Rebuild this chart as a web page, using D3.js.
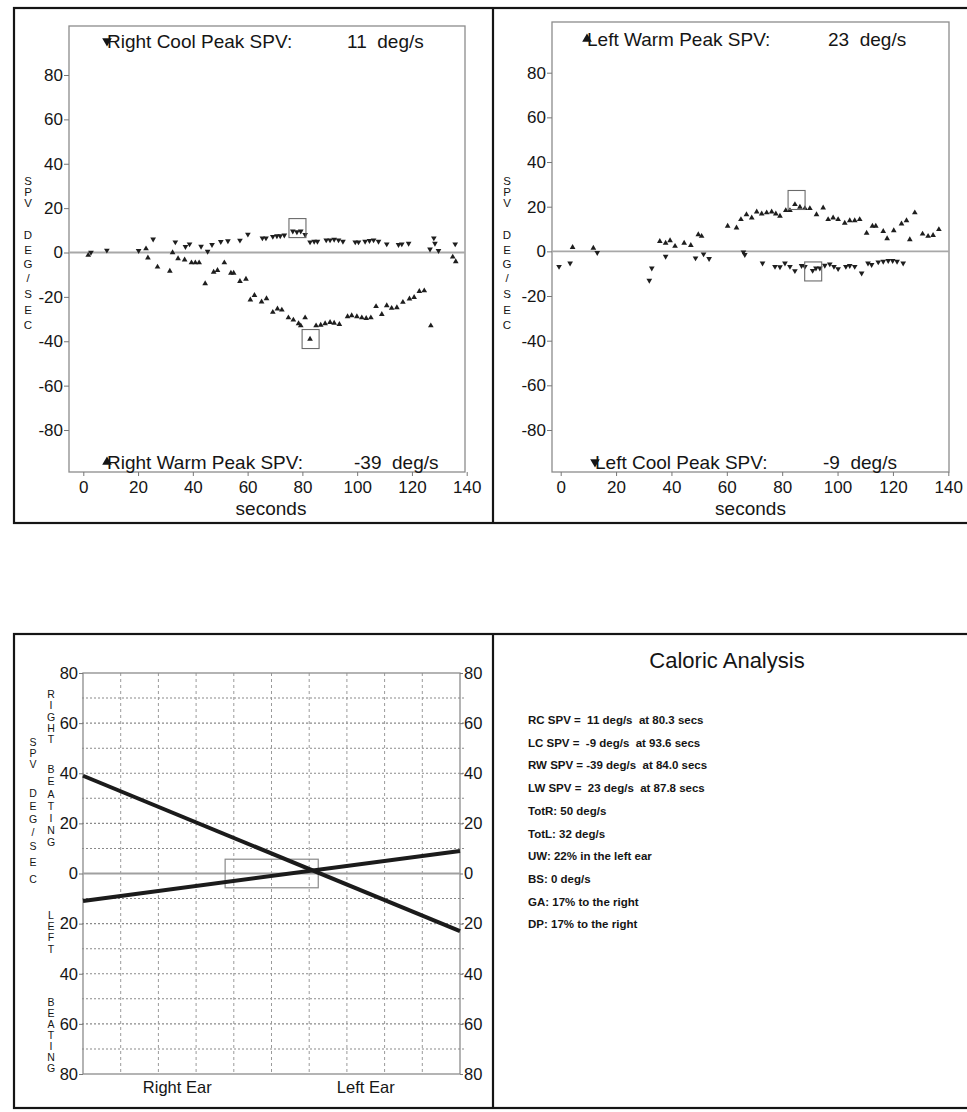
<!DOCTYPE html>
<html><head><meta charset="utf-8">
<script src="https://cdn.jsdelivr.net/npm/d3@7"></script>
<style>
body{margin:0;background:#fff}
svg text{font-family:"Liberation Sans",Arial,Helvetica,sans-serif;white-space:pre}
</style>
</head><body>
<svg id="c" width="967" height="1112"></svg>
<script>
// ---------- DATA ----------
const xTicks = [0, 20, 40, 60, 80, 100, 120, 140];
const yTicks = [80, 60, 40, 20, 0, -20, -40, -60, -80];

// Right ear: cool (down triangles) and warm (up triangles), [seconds, deg/s]
const rightCool = [[2.8,0],[8.6,1],[20.2,0.8],[25.5,6],[33.6,4.7],[37.3,2.6],[38.8,3.8],[43,2.7],[45.4,0.5],[47,3.5],[50.2,4.9],[52.8,5.2],[57.2,5.5],[60.1,8.2],[65.4,6.5],[66.7,6.5],[69.2,7.2],[70.7,7.5],[71.9,7.5],[73.4,7.8],[76.5,9.6],[78,9.3],[79.4,9.6],[81,8],[82.8,4.7],[84.3,5],[85.5,5],[88.7,5.6],[90.1,5.6],[91.6,5.9],[93.2,5.6],[94.8,5],[99.3,4.7],[100.5,4.7],[102.9,5],[104.5,5.3],[106,5.6],[107.8,5],[110.8,3.8],[115.1,3.5],[116.3,3.8],[118.8,4.1],[126.6,1.5],[128,6.5],[128.4,4.1],[129.7,0.8],[135.8,3.8]];
const rightWarm = [[1.8,-1.2],[22.9,1.7],[23.6,-2.4],[27.1,-6.5],[31.6,-8.4],[32.6,0],[34.6,-2.7],[37,-3.3],[39.5,-4.6],[40.9,-4.6],[42.3,-4.6],[44.5,-14],[47.6,-8.8],[49,-8],[51.5,-4.6],[53.9,-9.3],[54.9,-9.3],[57.2,-13],[59.4,-12],[61,-21.3],[62.5,-19.3],[65.1,-22.2],[66.9,-20.8],[69.2,-26.9],[70.9,-25.4],[72.5,-25.9],[74.9,-29.4],[76.7,-30.4],[78.6,-32],[79.4,-33],[81,-29.4],[82.8,-39],[85,-33],[86.7,-32.7],[88.3,-32],[90.1,-31.5],[91.6,-31.8],[93.5,-32.4],[96.5,-28.9],[98,-28.4],[99.9,-28.9],[101.7,-29.4],[103.3,-29.7],[105,-29.4],[106.9,-24.3],[109,-27.9],[110.8,-23.9],[112.6,-25.1],[114.5,-24.8],[116.7,-22.4],[119.1,-20.9],[120.8,-20.2],[122.7,-17.5],[124.5,-17.2],[126.9,-33],[134.9,-2],[136,-4.1]];
// Left ear
const leftWarm = [[4.3,1.8],[11.8,1.5],[35.8,4.5],[37.9,3.7],[39.5,4.8],[41.3,2.3],[44.6,3.7],[47,2.7],[49.7,7.5],[50.9,6.8],[60.3,11.3],[63.5,10.5],[65.1,14.3],[67.1,16.5],[69,15],[70.8,17.7],[72.6,16.8],[74.4,17.3],[76.2,17.7],[77.7,16.8],[79.2,15.8],[81.3,18.3],[82.8,18.3],[84.6,21],[86.4,19.8],[88.2,19.2],[90,19.2],[92.4,16.5],[94.8,19.5],[96.6,14.3],[98.4,15],[100.2,14.3],[102.6,12.7],[104.4,13.8],[106.2,13.8],[108,14.3],[110.5,8.2],[112.6,11.3],[113.8,11.3],[116.5,9],[117.9,5.7],[120.3,9.3],[123.1,12.3],[124.9,13.8],[126.1,5.3],[127.9,17.3],[130.7,7.8],[132.7,6.8],[134.5,7.2],[136.6,9.8]];
const leftCool = [[-0.6,-6.8],[3.4,-5.3],[13.2,-0.6],[32,-13],[32.9,-7.5],[37.9,-2.3],[48.7,-3],[51.6,-1.2],[53.6,-3.3],[66,-0.3],[66.5,-1.5],[72.9,-5.3],[77.4,-6.8],[79.2,-7],[81,-5.3],[82.8,-6.8],[84.6,-8.7],[87,-6.4],[88.2,-6.8],[91,-8.6],[92.2,-7.5],[93.6,-7.5],[95.4,-6.3],[97.2,-5.7],[98.7,-6.8],[100.2,-7.8],[103,-6.8],[104.4,-6.4],[106.2,-6.8],[108.7,-9.8],[111,-5.3],[112.3,-6],[114.7,-4.8],[116.5,-4.5],[118.3,-4.2],[119.9,-4.2],[121.5,-4.5],[123.7,-5.3]];
// Peak markers [seconds, deg/s]
const rcPeak = [78.2, 11];
const rwPeak = [83, -39];
const lwPeak = [85.2, 23];
const lcPeak = [91.2, -9];

// Butterfly chart (Right Ear -> Left Ear)
const earPos = [0, 10];
const warmLine = [39, -23];
const coolLine = [-11, 9];
const biasBoxX = [3.77, 6.24];
const biasBoxY = [-5.7, 5.7];
const bfTicks = [80, 60, 40, 20, 0, -20, -40, -60, -80];
const bfGrid = [70, 60, 50, 40, 30, 20, 10, -10, -20, -30, -40, -50, -60, -70];
const bfCols = [1, 2, 3, 4, 5, 6, 7, 8, 9];

const summaryTitle = "Caloric Analysis";
const summaryLines = [
  "RC SPV =  11 deg/s  at 80.3 secs",
  "LC SPV =  -9 deg/s  at 93.6 secs",
  "RW SPV = -39 deg/s  at 84.0 secs",
  "LW SPV =  23 deg/s  at 87.8 secs",
  "TotR: 50 deg/s",
  "TotL: 32 deg/s",
  "UW: 22% in the left ear",
  "BS: 0 deg/s",
  "GA: 17% to the right",
  "DP: 17% to the right"
];

// ---------- DRAW ----------
const svg = d3.select("#c");
const INK = "#151515";
const fmt = d => String(d);

function frame(y0, h) {
  svg.append("rect").attr("x", 14).attr("y", y0).attr("width", 970).attr("height", h)
    .attr("fill", "none").attr("stroke", INK).attr("stroke-width", 2.2);
  svg.append("line").attr("x1", 493).attr("x2", 493).attr("y1", y0).attr("y2", y0 + h)
    .attr("stroke", INK).attr("stroke-width", 2.2);
}
frame(8, 515);
frame(634, 474);

// vertically stacked letters as one text element
function stack(str, x, ys, size) {
  const t = svg.append("text").attr("font-size", size).attr("fill", INK).attr("text-anchor", "middle");
  str.split("").forEach((ch, i) => {
    t.append("tspan").attr("x", x).attr("y", ys[i] + size * 0.36).text(ch);
  });
}

const tri = d3.symbol().type(d3.symbolTriangle);

function scatterPanel(c) {
  const x = d3.scaleLinear().domain([0, 140]).range(c.xr);
  const y = d3.scaleLinear().domain([-80, 80]).range(c.yr);
  const g = svg.append("g");
  g.append("rect").attr("x", c.fx0).attr("y", c.fy0).attr("width", c.fx1 - c.fx0)
    .attr("height", c.fy1 - c.fy0).attr("fill", "none").attr("stroke", "#8c8c8c").attr("stroke-width", 1.3);
  g.append("line").attr("x1", c.fx0).attr("x2", c.fx1).attr("y1", y(0)).attr("y2", y(0))
    .attr("stroke", "#a8a8a8").attr("stroke-width", 1.8);

  const ya = g.append("g").attr("transform", `translate(${c.fx0},0)`)
    .call(d3.axisLeft(y).tickValues(yTicks).tickSize(5).tickPadding(1).tickFormat(fmt));
  ya.select(".domain").remove();
  ya.selectAll("line").attr("stroke", "#777");
  ya.selectAll("text").attr("font-size", 17).attr("fill", INK);

  const xa = g.append("g").attr("transform", `translate(0,${c.fy1})`)
    .call(d3.axisBottom(x).tickValues(xTicks).tickSize(4).tickPadding(5).tickFormat(fmt));
  xa.select(".domain").remove();
  xa.selectAll("line").attr("stroke", "#777");
  xa.selectAll("text").attr("font-size", 17).attr("fill", INK);

  g.append("text").attr("x", (x(0) + x(140)) / 2 - 4).attr("y", 515).attr("text-anchor", "middle")
    .attr("font-size", 19).attr("fill", INK).text("seconds");

  function pts(data, down) {
    g.selectAll(null).data(data).enter().append("path")
      .attr("d", tri.size(14)())
      .attr("transform", d => `translate(${x(d[0])},${y(d[1])})` + (down ? " rotate(180)" : ""))
      .attr("fill", "#1e1e1e");
  }
  pts(c.cool, true);
  pts(c.warm, false);

  [c.peakA, c.peakB].forEach(p => {
    g.append("rect").attr("x", x(p[0]) - 8.5).attr("y", y(p[1]) - 9.5).attr("width", 17).attr("height", 19)
      .attr("fill", "none").attr("stroke", "#6a6a6a").attr("stroke-width", 1.1);
  });

  c.titles.forEach(t => {
    g.append("path").attr("d", d3.symbol().type(d3.symbolTriangle).size(40)())
      .attr("transform", `translate(${t.x + 3},${t.y - 7})` + (t.down ? " rotate(180)" : ""))
      .attr("fill", INK);
    g.append("text").attr("x", t.x + 3).attr("y", t.y).attr("font-size", 19).attr("fill", INK).text(t.label);
    g.append("text").attr("x", t.vx).attr("y", t.y).attr("font-size", 19).attr("fill", INK).text(t.value);
  });

  stack("SPV", c.lx, [181, 192, 203], 11.5);
  stack("DEG/SEC", c.lx, [235, 250, 264, 278, 294, 310, 325], 11.5);
}

scatterPanel({
  xr: [83.3, 466.7], yr: [430, 75], fx0: 69, fx1: 465, fy0: 26, fy1: 472, lx: 28,
  cool: rightCool, warm: rightWarm, peakA: rcPeak, peakB: rwPeak,
  titles: [
    {x: 104, y: 48, down: true, label: "Right Cool Peak SPV:", vx: 347, value: "11  deg/s"},
    {x: 104, y: 469, down: false, label: "Right Warm Peak SPV:", vx: 354, value: "-39  deg/s"}
  ]
});
scatterPanel({
  xr: [560.7, 948.3], yr: [430, 72.7], fx0: 552, fx1: 949, fy0: 22, fy1: 472, lx: 507,
  cool: leftCool, warm: leftWarm, peakA: lwPeak, peakB: lcPeak,
  titles: [
    {x: 584, y: 46, down: false, label: "Left Warm Peak SPV:", vx: 828, value: "23  deg/s"},
    {x: 592, y: 469, down: true, label: "Left Cool Peak SPV:", vx: 823, value: "-9  deg/s"}
  ]
});

// ---------- Butterfly ----------
(function () {
  const x = d3.scaleLinear().domain([0, 10]).range([83, 460]);
  const y = d3.scaleLinear().domain([-80, 80]).range([1074, 673]);
  const g = svg.append("g");
  bfGrid.forEach(v => g.append("line").attr("x1", x(0) - 1).attr("x2", x(10) + 4).attr("y1", y(v)).attr("y2", y(v))
    .attr("stroke", "#8a8a8a").attr("stroke-width", 1.1).attr("stroke-dasharray", "2,2"));
  bfCols.forEach(v => g.append("line").attr("x1", x(v)).attr("x2", x(v)).attr("y1", y(80)).attr("y2", y(-80))
    .attr("stroke", "#9a9a9a").attr("stroke-width", 1).attr("stroke-dasharray", "3,3"));
  g.append("rect").attr("x", x(0)).attr("y", y(80)).attr("width", x(10) - x(0)).attr("height", y(-80) - y(80))
    .attr("fill", "none").attr("stroke", "#8c8c8c").attr("stroke-width", 1.3);
  g.append("line").attr("x1", x(0)).attr("x2", x(10)).attr("y1", y(0)).attr("y2", y(0))
    .attr("stroke", "#a0a0a0").attr("stroke-width", 1.8);

  const la = g.append("g").attr("transform", `translate(${x(0)},0)`)
    .call(d3.axisLeft(y).tickValues(bfTicks).tickSize(4).tickPadding(1).tickFormat(d => Math.abs(d)));
  la.select(".domain").remove();
  la.selectAll("line").attr("stroke", "#777");
  la.selectAll("text").attr("font-size", 16.5).attr("fill", INK);
  const ra = g.append("g").attr("transform", `translate(${x(10)},0)`)
    .call(d3.axisRight(y).tickValues(bfTicks).tickSize(3).tickPadding(1).tickFormat(d => Math.abs(d)));
  ra.select(".domain").remove();
  ra.selectAll("line").attr("stroke", "#777");
  ra.selectAll("text").attr("font-size", 16.5).attr("fill", INK);

  g.append("rect").attr("x", x(biasBoxX[0])).attr("y", y(biasBoxY[1]))
    .attr("width", x(biasBoxX[1]) - x(biasBoxX[0])).attr("height", y(biasBoxY[0]) - y(biasBoxY[1]))
    .attr("fill", "none").attr("stroke", "#8a8a8a").attr("stroke-width", 1.2);

  const line = d3.line().x(d => x(d[0])).y(d => y(d[1]));
  [warmLine, coolLine].forEach(L => {
    g.append("path").attr("d", line(earPos.map((p, i) => [p, L[i]])))
      .attr("fill", "none").attr("stroke", "#1b1b1b").attr("stroke-width", 4);
  });

  g.append("text").attr("x", x(2.5)).attr("y", 1093).attr("text-anchor", "middle").attr("font-size", 16.5).attr("fill", INK).text("Right Ear");
  g.append("text").attr("x", x(7.5)).attr("y", 1093).attr("text-anchor", "middle").attr("font-size", 16.5).attr("fill", INK).text("Left Ear");

  stack("SPV", 33, [742, 753, 764], 10.5);
  stack("DEG/SEC", 33, [793, 806, 819, 832, 846, 862, 879], 10.5);
  stack("RIGHT", 51, [694, 705, 717, 728, 739], 10.5);
  stack("BEATING", 51, [769, 781, 794, 806, 818, 830, 842], 10.5);
  stack("LEFT", 51, [915, 926, 937, 949], 10.5);
  stack("BEATING", 51, [1002, 1013, 1024, 1035, 1046, 1057, 1068], 10.5);
})();

// ---------- Summary ----------
svg.append("text").attr("x", 727).attr("y", 668).attr("text-anchor", "middle")
  .attr("font-size", 22).attr("fill", INK).text(summaryTitle);
svg.selectAll(null).data(summaryLines).enter().append("text")
  .attr("x", 528).attr("y", (d, i) => 724 + i * 22.7)
  .attr("font-size", 11.5).attr("font-weight", "bold").attr("fill", INK).text(d => d);
</script>
</body></html>
